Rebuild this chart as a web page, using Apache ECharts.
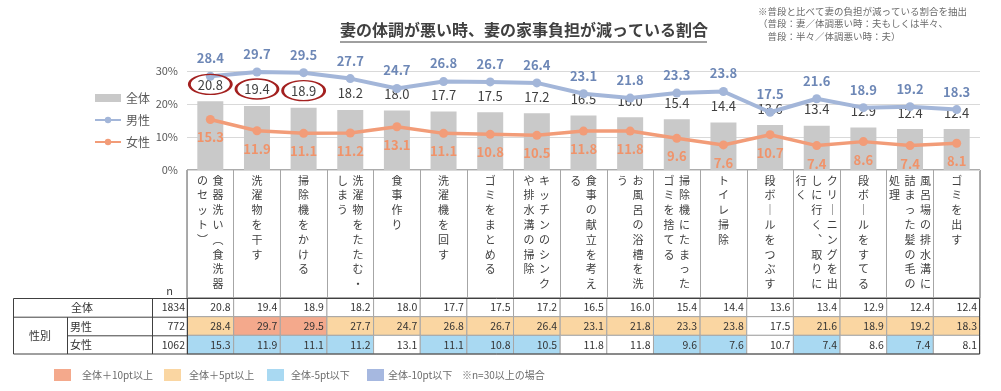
<!DOCTYPE html>
<html><head><meta charset="utf-8">
<script src="https://cdn.jsdelivr.net/npm/echarts@6/dist/echarts.min.js"></script>
<style>html,body{margin:0;padding:0;background:#fff}#c{width:1001px;height:391px}</style>
</head><body><div id="c"></div>
<script>
// ---------- data ----------
const categories = [
  '食器洗い（食洗器のセット）','洗濯物を干す','掃除機をかける','洗濯物をたたむ・しまう','食事作り',
  '洗濯機を回す','ゴミをまとめる','キッチンのシンクや排水溝の掃除','食事の献立を考える','お風呂の浴槽を洗う',
  '掃除機にたまったゴミを捨てる','トイレ掃除','段ボールをつぶす','クリーニングを出しに行く、取りに行く',
  '段ボールをすてる','風呂場の排水溝に詰まった髪の毛の処理','ゴミを出す'
];
const totalValues  = [20.8,19.4,18.9,18.2,18.0,17.7,17.5,17.2,16.5,16.0,15.4,14.4,13.6,13.4,12.9,12.4,12.4];
const maleValues   = [28.4,29.7,29.5,27.7,24.7,26.8,26.7,26.4,23.1,21.8,23.3,23.8,17.5,21.6,18.9,19.2,18.3];
const femaleValues = [15.3,11.9,11.1,11.2,13.1,11.1,10.8,10.5,11.8,11.8,9.6,7.6,10.7,7.4,8.6,7.4,8.1];
const rowNames = ['全体','男性','女性'];
const sampleSizes = [1834, 772, 1062];
const yTickMax = 30, yTickStep = 10;
const circledIndices = [0,1,2];
const titleText = '妻の体調が悪い時、妻の家事負担が減っている割合';
const noteText = '※普段と比べて妻の負担が減っている割合を抽出\n（普段：妻／体調悪い時：夫もしくは半々、\n　普段：半々／体調悪い時：夫）';
const colorLegend = ['全体＋10pt以上','全体＋5pt以上','全体-5pt以下','全体-10pt以下'];
const colorLegendNote = '※n=30以上の場合';

// ---------- styles ----------
const FONT = '"Noto Sans CJK JP","Noto Sans",sans-serif';
const C_P10 = '#F4A98C', C_P5 = '#FAD6A2', C_M5 = '#A9D9F2', C_M10 = '#A6B8E0';
const C_BAR = '#C9C9C9', C_MALE = '#A3B6D9', C_MALE_T = '#6D87B6', C_FEM = '#F29C78', C_FEM_T = '#F0936A';
const legendColors = [C_P10, C_P5, C_M5, C_M10];

const VMAP = {'ー':'｜','（':'︵','）':'︶','、':'︑'};
function verticalLabel(name){
  const chars = Array.from(name).map(ch => VMAP[ch] || ch);
  const cols = [];
  for (let i = 0; i < chars.length; i += 8) cols.push(chars.slice(i, i + 8));
  const rows = Math.max(...cols.map(c => c.length));
  const lines = [];
  for (let r = 0; r < rows; r++) {
    let line = '';
    for (let k = cols.length - 1; k >= 0; k--) line += '{c|' + (cols[k][r] || '　') + '}';
    lines.push(line);
  }
  return lines.join('\n');
}
function cellColor(i, r, v){
  if (r === 0) return '#fff';
  const d = Math.round((v - totalValues[i]) * 10) / 10;
  if (d >= 10) return C_P10;
  if (d >= 5) return C_P5;
  if (d <= -10) return C_M10;
  if (d <= -5) return C_M5;
  return '#fff';
}
const rowSeries = [totalValues, maleValues, femaleValues];
const tableData = [];
rowSeries.forEach((vals, r) => vals.forEach((v, i) => tableData.push([i, r, v])));
const nData = sampleSizes.map((n, r) => [0, r, n]);

const ellipsePath = 'path://M0,50A50,50 0 1,1 100,50A50,50 0 1,1 0,50Z';

const L = 187, R = 21;
const chart = echarts.init(document.getElementById('c'));

const graphics = [
  {type:'line', shape:{x1:340, y1:42, x2:707, y2:42}, style:{stroke:'#404040', lineWidth:1}},
  {type:'text', left:758, top:5, style:{text: noteText, font:'9.5px ' + FONT, fill:'#6b6b6b', lineHeight:12.5}},
  {type:'rect', shape:{x:13.5, y:298.5, width:966, height:55.5}, style:{fill:'none', stroke:'#404040', lineWidth:1}, z:100},
  {type:'line', shape:{x1:13.5, y1:317.2, x2:187, y2:317.2}, style:{stroke:'#404040', lineWidth:1}, z:100},
  {type:'line', shape:{x1:67.5, y1:335.8, x2:187, y2:335.8}, style:{stroke:'#404040', lineWidth:1}, z:100},
  {type:'line', shape:{x1:67.5, y1:317.2, x2:67.5, y2:354}, style:{stroke:'#404040', lineWidth:1}, z:100},
  {type:'line', shape:{x1:152.5, y1:298.5, x2:152.5, y2:354}, style:{stroke:'#404040', lineWidth:1}, z:100},
  {type:'line', shape:{x1:187.5, y1:298.5, x2:187.5, y2:354}, style:{stroke:'#404040', lineWidth:1}, z:100},
  {type:'text', x:82, y:307.8, style:{text:rowNames[0], font:'11px ' + FONT, fill:'#333', align:'center', verticalAlign:'middle'}, z:100},
  {type:'text', x:40, y:336, style:{text:'性別', font:'11px ' + FONT, fill:'#333', align:'center', verticalAlign:'middle'}, z:100},
  {type:'text', x:70, y:326.5, style:{text:rowNames[1], font:'11px ' + FONT, fill:'#333', align:'left', verticalAlign:'middle'}, z:100},
  {type:'text', x:70, y:345, style:{text:rowNames[2], font:'11px ' + FONT, fill:'#333', align:'left', verticalAlign:'middle'}, z:100}
];
const legendX = [54, 164, 267, 367];
const legendTextX = [82, 189, 291, 388];
colorLegend.forEach((t, k) => {
  graphics.push({type:'rect', shape:{x:legendX[k], y:369, width:17, height:12}, style:{fill:legendColors[k]}});
  graphics.push({type:'text', x:legendTextX[k], y:375, style:{text:t, font:'10px ' + FONT, fill:'#6b6b6b', verticalAlign:'middle'}});
});
graphics.push({type:'text', x:462, y:375, style:{text:colorLegendNote, font:'10px ' + FONT, fill:'#6b6b6b', verticalAlign:'middle'}});

const option = {
  animation: false,
  backgroundColor: '#fff',
  textStyle: {fontFamily: FONT},
  title: {text: titleText, left: 340, top: 22, padding: 0,
    textStyle: {fontSize: 16, fontWeight: 'bold', color: '#404040', fontFamily: FONT}},
  legend: {
    orient: 'vertical', left: 89, top: 87, itemWidth: 26, itemHeight: 8, itemGap: 10,
    textStyle: {fontSize: 12, color: '#595959'},
    data: [{name:'全体', icon:'rect'}, {name:'男性'}, {name:'女性'}]
  },
  grid: [
    {left: L, right: R, top: 71, bottom: 391 - 170, show: false},
    {left: L, right: R, top: 170, height: 128, show: true, borderColor: '#595959', borderWidth: 1},
    {left: L, right: R, top: 298, height: 56, show: false},
    {left: 152, width: 35, top: 298, height: 56, show: false}
  ],
  xAxis: [
    {gridIndex: 0, type: 'category', data: categories, axisTick: {show: false}, axisLine: {show: false},
     axisLabel: {interval: 0, margin: 3, formatter: v => verticalLabel(v),
       rich: {c: {width: 15.5, align: 'center', fontSize: 11, lineHeight: 14.8, color: '#404040'}}}},
    {gridIndex: 1, type: 'category', data: categories, axisTick: {show: false}, axisLine: {show: false},
     axisLabel: {show: false}, splitLine: {show: true, interval: 0, lineStyle: {color: '#A6A6A6'}}},
    {gridIndex: 2, type: 'category', data: categories, show: false},
    {gridIndex: 3, type: 'category', data: ['n'], position: 'top', axisTick: {show: false}, axisLine: {show: false},
     axisLabel: {margin: 2, fontSize: 11, color: '#404040'}}
  ],
  yAxis: [
    {gridIndex: 0, type: 'value', min: 0, max: yTickMax, interval: yTickStep,
     axisLabel: {formatter: '{value}%', fontSize: 11, color: '#595959', margin: 9},
     axisLine: {show: false}, axisTick: {show: false}, splitLine: {lineStyle: {color: '#D9D9D9'}}},
    {gridIndex: 1, type: 'value', show: false},
    {gridIndex: 2, type: 'category', data: rowNames, inverse: true, show: false},
    {gridIndex: 3, type: 'category', data: rowNames, inverse: true, show: false}
  ],
  series: [
    {name: '全体', type: 'bar', xAxisIndex: 0, yAxisIndex: 0, data: totalValues, barWidth: 26,
     itemStyle: {color: C_BAR},
     label: {show: true, position: 'top', distance: 10, fontSize: 13, color: '#404040',
       formatter: p => p.value.toFixed(1)},
     markPoint: {silent: true, symbol: ellipsePath, symbolSize: [42, 20], symbolOffset: [0, -17],
       itemStyle: {color: 'rgba(0,0,0,0)', borderColor: '#A3201F', borderWidth: 2},
       label: {show: false},
       data: circledIndices.map(i => ({coord: [i, totalValues[i]]}))}
    },
    {name: '男性', type: 'line', xAxisIndex: 0, yAxisIndex: 0, data: maleValues,
     symbol: 'circle', symbolSize: 9, lineStyle: {width: 4, color: C_MALE}, itemStyle: {color: C_MALE},
     label: {show: true, position: 'top', distance: 7, fontSize: 13, fontWeight: 'bold', color: C_MALE_T,
       formatter: p => p.value.toFixed(1)}},
    {name: '女性', type: 'line', xAxisIndex: 0, yAxisIndex: 0, data: femaleValues,
     symbol: 'circle', symbolSize: 9, lineStyle: {width: 3.5, color: C_FEM}, itemStyle: {color: C_FEM},
     label: {show: true, position: 'bottom', distance: 7, fontSize: 13, fontWeight: 'bold', color: C_FEM_T,
       formatter: p => p.value.toFixed(1)}},
    {type: 'custom', xAxisIndex: 2, yAxisIndex: 2, data: tableData, silent: true,
     renderItem: (params, api) => {
       const i = api.value(0), r = api.value(1), v = api.value(2);
       const c = api.coord([i, r]);
       const s = api.size([1, 1]);
       const x0 = c[0] - s[0] / 2, y0 = c[1] - s[1] / 2;
       return {type: 'group', children: [
         {type: 'rect', shape: {x: x0, y: y0, width: s[0], height: s[1]},
          style: {fill: cellColor(i, r, v), stroke: '#A6A6A6', lineWidth: 1}},
         {type: 'text', style: {text: v.toFixed(1), x: x0 + s[0] - 3, y: c[1], align: 'right', verticalAlign: 'middle',
           fill: '#333', font: '10.5px ' + FONT}}
       ]};
     }},
    {type: 'custom', xAxisIndex: 3, yAxisIndex: 3, data: nData, silent: true,
     renderItem: (params, api) => {
       const c = api.coord([api.value(0), api.value(1)]);
       const s = api.size([1, 1]);
       return {type: 'text', style: {text: String(api.value(2)), x: c[0] + s[0] / 2 - 2, y: c[1],
         align: 'right', verticalAlign: 'middle', fill: '#333', font: '10.5px ' + FONT}};
     }}
  ],
  graphic: graphics
};
chart.setOption(option);
</script>
</body></html>
